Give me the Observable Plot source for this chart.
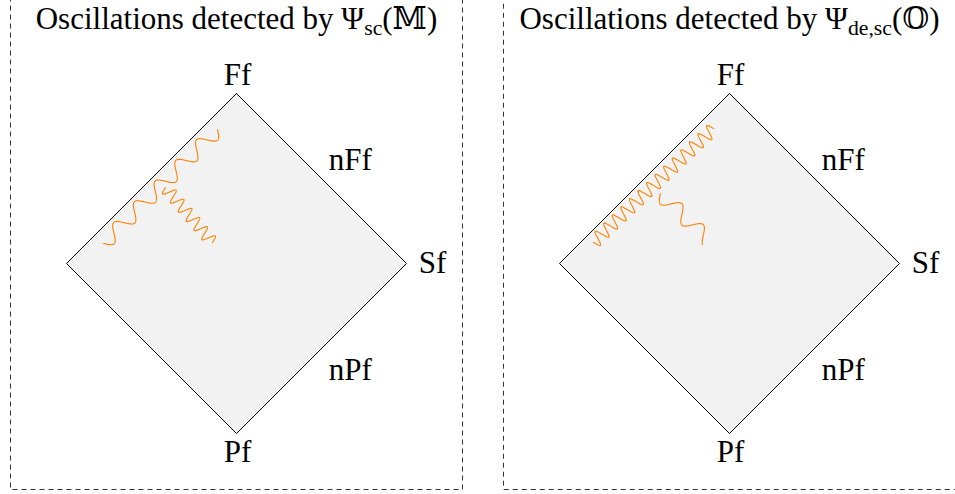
<!DOCTYPE html>
<html>
<head>
<meta charset="utf-8">
<script src="https://cdn.jsdelivr.net/npm/d3@7"></script>
<script src="https://cdn.jsdelivr.net/npm/@observablehq/plot@0.6"></script>
<style>
  html, body { margin: 0; padding: 0; background: #fff; }
  svg { display: block; }
</style>
</head>
<body>
<div id="chart"></div>
<script>
// ---- data (diagram units: diamond half-diagonal = 1) ----
const panels = [0, 1];
const panelOffset = [0, 2.9];
const titles = ["Oscillations detected by Ψ_{sc}(𝕄)", "Oscillations detected by Ψ_{de,sc}(𝕆)"];
const titleU = [0, 0];
const titleV = [1.44, 1.44];

const diamondU = [0, 1, 0, -1, 0];
const diamondV = [1, 0, -1, 0, 1];

const labelNames = ["Ff", "nFf", "Sf", "nPf", "Pf"];
const labelU = [0.006, 0.67, 1.153, 0.67, 0.006];
const labelV = [1.106, 0.606, 0.0, -0.629, -1.112];

const frameLeft = [-1.3265, -1.3265];
const frameRight = [1.3324, 1.38];
const frameBottom = [-1.3324, -1.3324];
const frameTop = [1.65, 1.65];

// oscillation wiggles
const wavePanel   = [0, 0, 1, 1];
const waveStartU  = [-0.782, -0.418, -0.800, -0.406];
const waveStartV  = [ 0.118,  0.447,  0.124,  0.412];
const waveEndU    = [-0.112, -0.141, -0.094, -0.129];
const waveEndV    = [ 0.788,  0.124,  0.794,  0.141];
const wavePeriods = [5.5, 6, 14, 2.2];
const waveAmp     = [0.045, 0.037, 0.04, 0.045];

// ---- layout ----
const W = 955, H = 494, unitPx = 170, cx = 236, cy = 263;
const xDomain = [-cx / unitPx, (W - cx) / unitPx];
const yDomain = [-(H - cy) / unitPx, cy / unitPx];
const FONT = "'Liberation Serif', 'DejaVu Serif', serif";

const diamond = panels.flatMap(p => diamondU.map((u, i) => ({p, u: u + panelOffset[p], v: diamondV[i]})));
const labels = panels.flatMap(p => labelNames.map((name, i) => ({p, name, u: labelU[i] + panelOffset[p], v: labelV[i]})));
const titleData = panels.map(p => ({p, text: titles[p], u: titleU[p] + panelOffset[p], v: titleV[p]}));
const frames = panels.map(p => ({p, x1: frameLeft[p] + panelOffset[p], x2: frameRight[p] + panelOffset[p], y1: frameBottom[p], y2: frameTop[p]}));

const waves = [];
wavePanel.forEach((p, w) => {
  const su = waveStartU[w] + panelOffset[p], sv = waveStartV[w];
  const eu = waveEndU[w] + panelOffset[p], ev = waveEndV[w];
  const du = eu - su, dv = ev - sv, len = Math.hypot(du, dv);
  const nu = dv / len, nv = -du / len;
  const N = 500;
  for (let k = 0; k <= N; k++) {
    const t = k / N;
    const s = waveAmp[w] * Math.sin(2 * Math.PI * wavePeriods[w] * t);
    waves.push({w, u: su + t * du + s * nu, v: sv + t * dv + s * nv});
  }
});

const plot = Plot.plot({
  width: W, height: H, margin: 0,
  x: {domain: xDomain, axis: null},
  y: {domain: yDomain, axis: null},
  style: {background: "#fff"},
  marks: [
    Plot.rect(frames, {x1: "x1", x2: "x2", y1: "y1", y2: "y2", fill: "none", stroke: "#333", strokeWidth: 1, strokeDasharray: "5,4"}),
    Plot.line(diamond, {x: "u", y: "v", z: "p", fill: "#f2f2f2", stroke: "#000", strokeWidth: 1, curve: "linear"}),
    Plot.line(waves, {x: "u", y: "v", z: "w", stroke: "#ff8000", strokeWidth: 1.1, curve: "linear"}),
    Plot.text(labels, {x: "u", y: "v", text: "name", fontSize: 31, fontFamily: "Liberation Serif", fill: "#000", textAnchor: "middle", lineAnchor: "middle"}),
    Plot.text(titleData, {x: "u", y: "v", text: "text", fontSize: 31, fontFamily: "Liberation Serif", fill: "#000", textAnchor: "middle", lineAnchor: "middle"})
  ]
});

// serif font on all text, and subscripts in titles
d3.select(plot).selectAll("text").style("font-family", FONT).each(function () {
  const el = d3.select(this);
  const txt = this.textContent;
  if (!txt.includes("_{")) return;
  const m = txt.match(/^(.*)_\{(.*?)\}(.*)$/);
  el.selectAll("*").remove();
  el.text(null);
  el.append("tspan").text(m[1]);
  el.append("tspan").attr("dy", 6).attr("font-size", "0.7em").text(m[2]);
  el.append("tspan").attr("dy", -6).text(m[3]);
});

document.getElementById("chart").appendChild(plot);
</script>
</body>
</html>
